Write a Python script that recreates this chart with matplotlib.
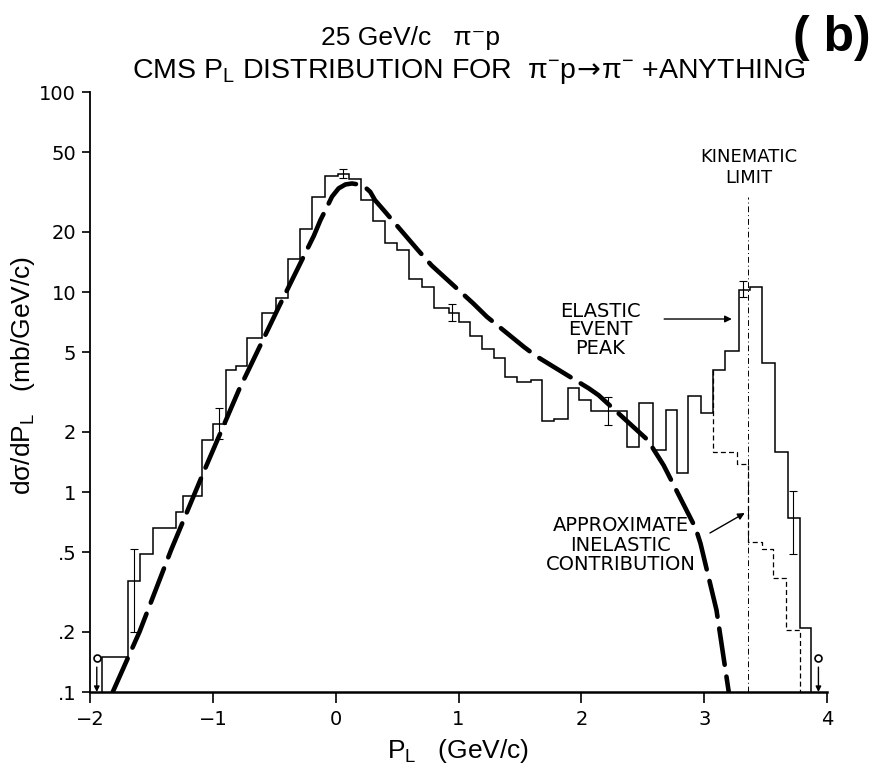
import numpy as np
import matplotlib
matplotlib.use('Agg')
from matplotlib import pyplot as plt

plt.rcParams['font.family'] = ['Liberation Sans', 'DejaVu Sans']
plt.rcParams['mathtext.fontset'] = 'dejavusans'

# measured histogram (solid), bin edges in GeV/c and heights in mb/GeV/c
edges = [-1.90, -1.69, -1.59, -1.49, -1.30, -1.24, -1.09, -1.00, -0.89, -0.81,
         -0.72, -0.60, -0.49, -0.39, -0.29, -0.19, -0.09, 0.02, 0.11, 0.21,
         0.30, 0.40, 0.50, 0.60, 0.70, 0.80, 0.92, 1.00, 1.09, 1.19,
         1.29, 1.38, 1.48, 1.59, 1.68, 1.78, 1.89, 1.98, 2.08, 2.37,
         2.47, 2.58, 2.69, 2.78, 2.87, 2.97, 3.07, 3.17, 3.28, 3.37,
         3.47, 3.58, 3.68, 3.78, 3.87]
counts = [0.15, 0.36, 0.49, 0.66, 0.79, 0.95, 1.82, 2.2, 4.07, 4.27,
          5.87, 7.82, 9.3, 14.7, 20.6, 30, 38, 39, 36.6, 28.8,
          22.6, 17.6, 16.2, 11.6, 10.6, 8.3, 7.9, 7.1, 6.0, 5.2,
          4.7, 3.77, 3.56, 3.63, 2.27, 2.31, 3.3, 2.9, 2.55, 1.68,
          2.8, 1.62, 2.57, 1.25, 3.02, 2.48, 4.07, 5.09, 10.2, 10.6,
          4.43, 1.59, 0.744, 0.209]

# approximate inelastic contribution (dashed histogram)
inel_edges = [3.07, 3.27, 3.36, 3.47, 3.56, 3.67, 3.78]
inel_counts = [1.59, 1.38, 0.565, 0.52, 0.373, 0.204]

# model curve (long dashes)
curve_p = [-1.815, -1.597, -1.34, -1.07, -0.786, -0.462, -0.178, -0.124, -0.083, -0.03,
           0.024, 0.079, 0.132, 0.186, 0.24, 0.281, 0.32, 0.39, 0.67, 0.78,
           1.12, 1.23, 1.53, 1.63, 2.06, 2.14, 2.54, 2.67, 2.93, 2.97,
           3.10, 3.20]
curve_v = [0.1, 0.2, 0.513, 1.28, 3.26, 8.45, 19.1, 22.9, 25.7, 30.0,
           33.0, 34.5, 34.9, 34.5, 33.4, 31.7, 28.8, 25.7, 16.2, 13.6,
           8.77, 7.53, 5.33, 4.79, 3.30, 3.05, 1.82, 1.36, 0.66, 0.553,
           0.257, 0.1]

# error bars
err_p = [-1.64, -0.95, 0.06, 0.95, 2.22, 3.32, 3.72]
err_lo = [0.20, 1.85, 37, 7.2, 2.16, 9.4, 0.49]
err_hi = [0.52, 2.62, 41, 8.7, 3.0, 11.4, 1.01]

# upper limits
limit_p = [-1.945, 3.93]
limit_v = [0.148, 0.148]

kin_limit = 3.36
kin_top = 30

yticks = [0.1, 0.2, 0.5, 1, 2, 5, 10, 20, 50, 100]
ytick_labels = ['.1', '.2', '.5', '1', '2', '5', '10', '20', '50', '100']
xticks = [-2, -1, 0, 1, 2, 3, 4]
xtick_labels = ['\u22122', '\u22121', '0', '1', '2', '3', '4']

fig = plt.figure(figsize=(8.8, 7.8), dpi=100)
ax = fig.add_axes([0.1023, 0.1128, 0.8375, 0.7692])
ax.set_yscale('log')
ax.set_xlim(-2, 4)
ax.set_ylim(0.1, 100)

for s in ['top', 'right']:
    ax.spines[s].set_visible(False)
ax.spines['left'].set_linewidth(1.3)
ax.spines['bottom'].set_linewidth(1.8)

ax.yaxis.set_major_locator(matplotlib.ticker.FixedLocator(yticks))
ax.yaxis.set_minor_locator(matplotlib.ticker.NullLocator())
ax.set_yticklabels(ytick_labels, fontsize=14, family='DejaVu Sans')
ax.set_xticks(xticks)
ax.set_xticklabels(xtick_labels, fontsize=14, family='DejaVu Sans')
ax.tick_params(axis='y', direction='out', length=6, width=1.2, pad=4)
ax.tick_params(axis='x', direction='out', length=8, width=1.2, pad=5)

# solid histogram
ax.stairs(counts, edges, baseline=0.1, color='black', lw=1.1)

# dashed inelastic part, starting from the solid level and ending at the axis
start_level = counts[edges.index(inel_edges[0])]
xs = [inel_edges[0]]
ys = [start_level]
for i, v in enumerate(inel_counts):
    xs += [inel_edges[i], inel_edges[i + 1]]
    ys += [v, v]
xs.append(inel_edges[-1])
ys.append(0.1)
ax.plot(xs, ys, color='black', lw=0.9, linestyle=(0, (4, 2.5)))

# kinematic limit
ax.vlines(kin_limit, 0.1, kin_top, color='black', lw=0.7,
          linestyles=[(0, (6, 3, 1, 3))])

# model curve
ax.plot(curve_p, curve_v, color='black', lw=3.3, linestyle=(0, (8, 2.6)),
        solid_capstyle='round', dash_capstyle='round')

# error bars
err_lo = np.array(err_lo)
err_hi = np.array(err_hi)
err_mid = np.sqrt(err_lo * err_hi)
ax.errorbar(err_p, err_mid, yerr=[err_mid - err_lo, err_hi - err_mid], fmt='none',
            ecolor='black', elinewidth=0.8, capsize=3, capthick=0.8)

# upper limits
ax.plot(limit_p, limit_v, 'o', mfc='white', mec='black', ms=5, mew=1.2)
for p, v in zip(limit_p, limit_v):
    ax.annotate('', xy=(p, 0.1), xytext=(p, v * 0.9),
                arrowprops=dict(arrowstyle='-|>', color='black', lw=1,
                                mutation_scale=8, shrinkA=0, shrinkB=0))

# annotations
ax.text(kin_limit, 42, 'KINEMATIC\nLIMIT', ha='center', va='center',
        fontsize=13, linespacing=1.25, family='DejaVu Sans')
ax.text(2.156, 6.46, 'ELASTIC\nEVENT\nPEAK', ha='center', va='center',
        fontsize=14, linespacing=0.98, family='DejaVu Sans')
ax.annotate('', xy=(3.225, 7.33), xytext=(2.674, 7.33),
            arrowprops=dict(arrowstyle='-|>', color='black', lw=1,
                            mutation_scale=10, shrinkA=0, shrinkB=0))
ax.text(2.318, 0.543, 'APPROXIMATE\nINELASTIC\nCONTRIBUTION', ha='center',
        va='center', fontsize=14, linespacing=1.02, family='DejaVu Sans')
ax.annotate('', xy=(3.33, 0.785), xytext=(3.047, 0.624),
            arrowprops=dict(arrowstyle='-|>', color='black', lw=1,
                            mutation_scale=10, shrinkA=0, shrinkB=0))

ax.set_xlabel(r'P$_{\mathregular{L}}$   (GeV/c)', fontsize=19)
ax.xaxis.set_label_coords(0.5, -0.075)
ax.set_ylabel(r'd$\mathregular{\sigma}$/dP$_{\mathregular{L}}$   (mb/GeV/c)',
              fontsize=19)
ax.yaxis.set_label_coords(-0.072, 0.528)

fig.text(0.466, 0.951, '25 GeV/c   \u03c0\u207bp', ha='center', va='center',
         fontsize=19)
fig.text(0.533, 0.908,
         r'CMS P$_{\mathregular{L}}$ DISTRIBUTION FOR  '
         r'$\mathregular{\pi^{-}p}\!\rightarrow\!\mathregular{\pi^{-}}$ +ANYTHING',
         ha='center', va='center', fontsize=20.5)
fig.text(0.945, 0.951, '( b)', ha='center', va='center', fontsize=36,
         fontweight='bold')

fig.savefig('out.png', dpi=100)
